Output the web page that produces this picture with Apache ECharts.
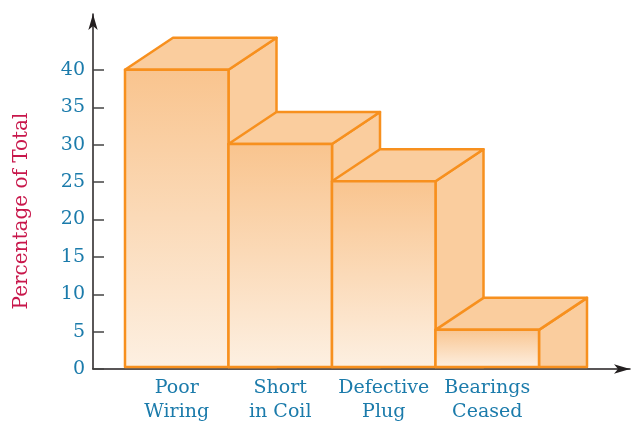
<!DOCTYPE html>
<html><head><meta charset="utf-8">
<script src="https://cdn.jsdelivr.net/npm/echarts@6/dist/echarts.min.js"></script>
<style>html,body{margin:0;padding:0;background:#fff}#c{width:631px;height:424px}</style>
</head><body><div id="c"></div>
<script>
const categories = ['Poor\nWiring', 'Short\nin Coil', 'Defective\nPlug', 'Bearings\nCeased'];
const values = [40, 30, 25, 5];
const yTicks = [0, 5, 10, 15, 20, 25, 30, 35, 40];
const yTitle = 'Percentage of Total';

const FONT = 'DejaVu Serif';
const BLUE = '#1b7bab';
const EDGE = '#f7901e';
const chart = echarts.init(document.getElementById('c'), null, {renderer: 'canvas'});
chart.setOption({
  animation: false,
  backgroundColor: '#fff',
  grid: [
    {left: 125, right: 92, top: 14, bottom: 55},
    {left: 93, right: 1, top: 14, bottom: 55}
  ],
  graphic: [{
    type: 'text', x: 22, y: 211, rotation: Math.PI / 2,
    style: {text: yTitle, fill: '#c8174b', font: '20px "DejaVu Serif"', align: 'center', verticalAlign: 'middle'}
  }],
  xAxis: [
    {type: 'category', gridIndex: 0, data: categories, boundaryGap: true,
     axisLine: {show: false}, axisTick: {show: false},
     axisLabel: {color: BLUE, fontFamily: FONT, fontSize: 19, lineHeight: 24, margin: 9, interval: 0}},
    {type: 'value', gridIndex: 1, min: 0, max: 1,
     axisLine: {show: true, symbol: ['none', 'arrow'], symbolSize: [7, 16], lineStyle: {color: '#231f20', width: 1.5}},
     axisTick: {show: false}, axisLabel: {show: false}, splitLine: {show: false}}
  ],
  yAxis: [
    {type: 'value', gridIndex: 0, min: 0, max: 47.5, show: false, splitLine: {show: false}},
    {type: 'value', gridIndex: 1, min: 0, max: 47.5, interval: 5,
     axisLine: {show: true, symbol: ['none', 'arrow'], symbolSize: [7, 16], lineStyle: {color: '#231f20', width: 1.5}},
     axisTick: {show: true, inside: true, length: 11, customValues: yTicks, lineStyle: {color: '#444', width: 1.5}},
     axisLabel: {customValues: yTicks, color: BLUE, fontFamily: FONT, fontSize: 19, margin: 8},
     splitLine: {show: false}}
  ],
  series: [{
    type: 'custom', xAxisIndex: 0, yAxisIndex: 0,
    data: values.map((v, i) => [i, v]),
    renderItem: function (params, api) {
      const x = api.value(0), v = api.value(1);
      const base = api.coord([x, 0]);
      const top = api.coord([x, v]);
      const w = api.size([1, 0])[0];
      const x0 = base[0] - w / 2, x1 = base[0] + w / 2, y0 = base[1], y1 = top[1];
      const dx = 48, dy = -32;
      const st = {stroke: EDGE, lineWidth: 2.5, lineJoin: 'round'};
      return {type: 'group', children: [
        {type: 'polygon', shape: {points: [[x1, y1], [x1 + dx, y1 + dy], [x1 + dx, y0], [x1, y0]]},
         style: Object.assign({fill: '#facd9e'}, st)},
        {type: 'polygon', shape: {points: [[x0, y1], [x0 + dx, y1 + dy], [x1 + dx, y1 + dy], [x1, y1]]},
         style: Object.assign({fill: '#facd9e'}, st)},
        {type: 'rect', shape: {x: x0, y: y1, width: w, height: y0 - y1},
         style: Object.assign({fill: new echarts.graphic.LinearGradient(0, 0, 0, 1, [
           {offset: 0, color: '#f9c48e'}, {offset: 1, color: '#fdf0e2'}])}, st)}
      ]};
    }
  }]
});
</script></body></html>
